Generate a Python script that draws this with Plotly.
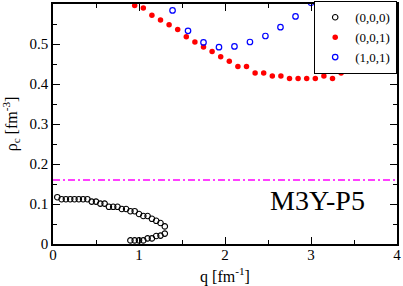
import plotly.graph_objects as go

# (0,0,0) branch
q000_upper = [0.05,0.10,0.15,0.20,0.25,0.30,0.35,0.40,0.45,0.50,0.55,0.60,0.65,0.70,0.75,0.80,0.85,0.90,0.95,1.00,1.05,1.10,1.15,1.20,1.25,1.30]
r000_upper = [0.117,0.112,0.112,0.112,0.112,0.112,0.112,0.112,0.106,0.106,0.101,0.101,0.093,0.093,0.093,0.0875,0.0875,0.082,0.082,0.075,0.070,0.070,0.063,0.058,0.0525,0.044]
q000_lower = [0.90,0.95,1.00,1.05,1.10,1.15,1.20,1.25,1.30]
r000_lower = [0.009,0.009,0.009,0.009,0.014,0.014,0.020,0.021,0.026]

# (0,0,1)
q001 = [0.95,1.05,1.15,1.25,1.35,1.45,1.55,1.65,1.75,1.85,1.95,2.05,2.15,2.25,2.35,2.45,2.55,2.65,2.75,2.85,2.95,3.05,3.15,3.25,3.35,3.45,3.55,3.65,3.75,3.85,3.95]
r001 = [0.596,0.590,0.572,0.560,0.548,0.536,0.518,0.505,0.4925,0.481,0.468,0.457,0.444,0.444,0.4275,0.4275,0.420,0.420,0.414,0.414,0.414,0.414,0.420,0.414,0.4275,0.4325,0.444,0.451,0.462,0.475,0.488]

# (1,0,1)
q101 = [1.39,1.57,1.75,1.93,2.11,2.29,2.47,2.645,2.82,3.0]
r101 = [0.584,0.533,0.504,0.492,0.494,0.505,0.520,0.542,0.569,0.603]

rho0 = 0.16
label = "M3Y-P5"
legend_names = ["(0,0,0)", "(0,0,1)", "(1,0,1)"]

font = "Liberation Serif, Times New Roman, serif"
MS = 5.5
fig = go.Figure()
fig.add_trace(go.Scatter(x=[0, 4], y=[rho0, rho0], mode="lines",
                         line=dict(color="#ff00ff", width=1.3, dash="7px,3px,2px,3px"),
                         showlegend=False, hoverinfo="skip"))
fig.add_trace(go.Scatter(x=q000_upper + q000_lower[::-1], y=r000_upper + r000_lower[::-1],
                         mode="markers", name=legend_names[0],
                         marker=dict(symbol="circle-open", size=MS, color="black", line=dict(width=1.1))))
fig.add_trace(go.Scatter(x=q001, y=r001, mode="markers", name=legend_names[1],
                         marker=dict(symbol="circle", size=MS, color="#ff0000")))
fig.add_trace(go.Scatter(x=q101, y=r101, mode="markers", name=legend_names[2],
                         marker=dict(symbol="circle-open", size=MS, color="#0000ff", line=dict(width=1.2))))

fig.add_annotation(x=3.08, y=0.11, text=label, showarrow=False,
                   font=dict(family=font, size=28, color="black"))

axis_common = dict(showline=True, linecolor="black", linewidth=1.5, mirror="allticks",
                   ticks="inside", ticklen=7, tickwidth=1.2, tickcolor="black",
                   showgrid=False, zeroline=False, automargin=False,
                   tickfont=dict(family=font, size=15, color="black"))

fig.update_layout(
    xaxis=dict(range=[0, 4], tickvals=[0, 1, 2, 3, 4], ticklabelstandoff=-4,
               minor=dict(dtick=0.5, ticks="inside", ticklen=4, tickcolor="black", tickwidth=1.2, showgrid=False),
               title=dict(text="q [fm<sup>-1</sup>]", font=dict(family=font, size=16, color="black"), standoff=13),
               **axis_common),
    yaxis=dict(range=[0, 0.6], tickvals=[0, 0.1, 0.2, 0.3, 0.4, 0.5], ticktext=["0", "0.1", "0.2", "0.3", "0.4", "0.5"],
               minor=dict(dtick=0.05, ticks="inside", ticklen=4, tickcolor="black", tickwidth=1.2, showgrid=False),
               title=dict(text="ρ<sub>c</sub> [fm<sup>-3</sup>]", font=dict(family=font, size=16, color="black"), standoff=11),
               **axis_common),
    width=403, height=286, margin=dict(l=53, r=6, t=4, b=42, autoexpand=False),
    font=dict(family=font, size=15, color="black"),
    paper_bgcolor="white", plot_bgcolor="white", showlegend=True,
    legend=dict(x=1, y=1.012, xanchor="right", yanchor="top", bgcolor="white",
                bordercolor="black", borderwidth=1.2, itemwidth=30, tracegroupgap=0,
                font=dict(family=font, size=13, color="black")))

fig.write_html("out.html", config={"displayModeBar": False},
               post_script="document.body.style.margin='0';document.body.style.padding='0';")
